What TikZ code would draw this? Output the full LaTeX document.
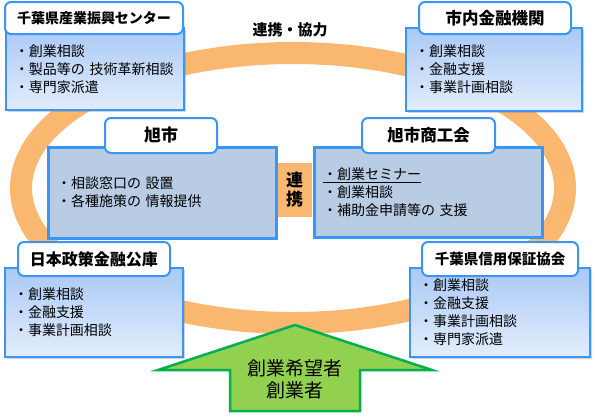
\documentclass[tikz,border=0pt]{standalone}
\usepackage{fontspec}
\setmainfont{Noto Sans CJK JP}
\definecolor{ringorange}{RGB}{250, 183, 112}
\definecolor{boxblue}{RGB}{58, 150, 245}
\definecolor{bodytop}{RGB}{170, 201, 245}
\definecolor{bodybot}{RGB}{226, 237, 252}
\definecolor{midfill}{RGB}{184, 204, 228}
\definecolor{arrowgreen}{RGB}{146, 208, 80}
\definecolor{arrowedge}{RGB}{0, 176, 80}
\usetikzlibrary{shapes, positioning, shadows}

\begin{document}
\begin{tikzpicture}[x=1pt, y=1pt,
  bd/.style={rectangle, draw=boxblue, line width=2pt, top color=bodytop, bottom color=bodybot,
    drop shadow={shadow xshift=1.5pt, shadow yshift=-1.5pt, opacity=0.35},
    align=left, inner xsep=9pt, font=\fontsize{14}{18}\selectfont},
  md/.style={rectangle, draw=boxblue, line width=3pt, fill=midfill,
    drop shadow={shadow xshift=1.5pt, shadow yshift=-1.5pt, opacity=0.35},
    align=left, inner xsep=9pt, font=\fontsize{14}{18}\selectfont},
  tl/.style={rectangle, rounded corners=6pt, draw=boxblue, line width=2pt, fill=white,
    font=\fontsize{#1}{18}\selectfont\bfseries},
  tl/.default=16.5,
]
  \useasboundingbox (0,0) rectangle (595,-416);
  % Ring
  \draw[ringorange, line width=22pt] (293,-188) ellipse [x radius=272pt, y radius=135pt];
  \node[font=\fontsize{15}{18}\selectfont\bfseries] (kyoryoku) at (290,-30) {連携・協力};
  \node[fill=ringorange, minimum width=35pt, minimum height=54pt, inner sep=0pt, align=center,
    font=\fontsize{17}{19}\selectfont\bfseries] (renkei) at (294.5,-190) {連\\携};
  % Bodies
  \node[bd, text width=160pt, minimum height=82pt] (center) at (95,-69)
    {・創業相談\\・製品等の 技術革新相談\\・専門家派遣};
  \node[bd, text width=158pt, minimum height=83pt] (bank) at (494,-69.5)
    {・創業相談\\・金融支援\\・事業計画相談};
  \node[md, text width=210pt, minimum height=91pt] (city) at (162,-192.5)
    {・相談窓口の 設置\\・各種施策の 情報提供};
  \node[md, text width=210pt, minimum height=90pt] (shoko) at (428,-192)
    {\underline{・創業セミナー}\\・創業相談\\・補助金申請等の 支援};
  \node[bd, text width=160pt, minimum height=89pt] (jfc) at (94,-312.5)
    {・創業相談\\・金融支援\\・事業計画相談};
  \node[bd, text width=162pt, minimum height=89pt] (hosho) at (500,-312.5)
    {・創業相談\\・金融支援\\・事業計画相談\\・専門家派遣};
  % Titles
  \node[tl=14, minimum width=178pt, minimum height=32pt] (centert) at (94,-18) {千葉県産業振興センター};
  \node[tl, minimum width=152pt, minimum height=32pt] (bankt) at (495,-18) {市内金融機関};
  \node[tl=17, minimum width=112pt, minimum height=35pt] (cityt) at (161,-135.5) {旭市};
  \node[tl, minimum width=133pt, minimum height=35pt] (shokot) at (428.5,-135.5) {旭市商工会};
  \node[tl=16, minimum width=152pt, minimum height=34pt] (jfct) at (94,-259) {日本政策金融公庫};
  \node[tl=14.5, minimum width=156pt, minimum height=34pt] (hoshot) at (500,-259) {千葉県信用保証協会};
  % Arrow
  \draw[arrowedge, fill=arrowgreen, line width=2.5pt, line join=miter]
    (295,-325) -- (432,-370) -- (360,-370) -- (360,-411) -- (230,-411) -- (230,-370) -- (158,-370) -- cycle;
  \node[align=center, font=\fontsize{19}{22}\selectfont] (kibou) at (295,-379) {創業希望者\\創業者};
\end{tikzpicture}
\end{document}
